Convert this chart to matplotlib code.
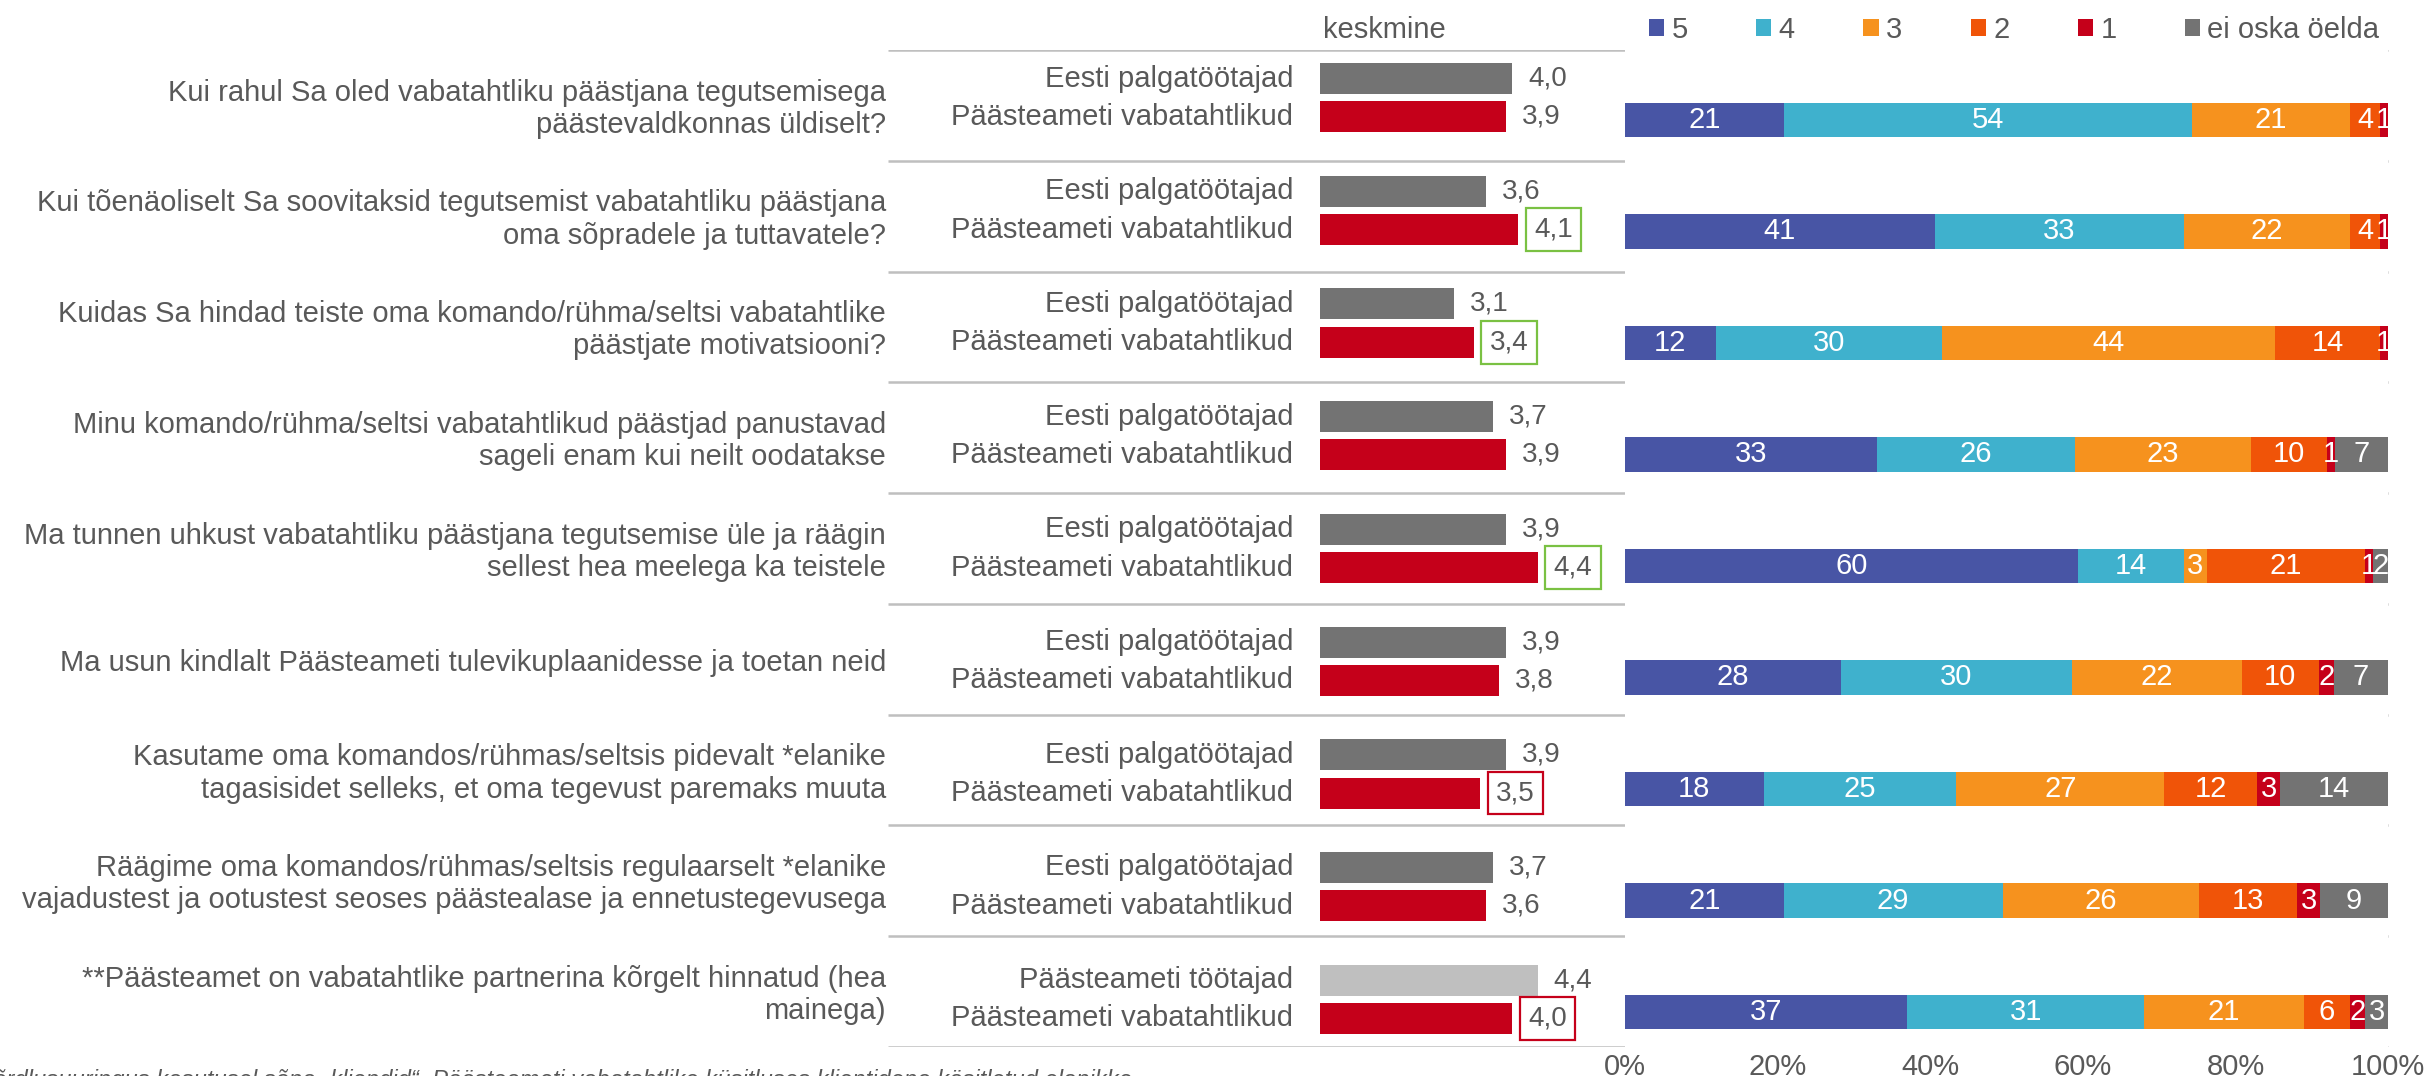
import matplotlib
matplotlib.use('Agg')
import matplotlib.pyplot as plt
import numpy as np
from matplotlib.patches import Patch

plt.rcParams['font.family'] = ['Liberation Sans', 'DejaVu Sans']

# --- andmed ---
questions = [
    "Kui rahul Sa oled vabatahtliku päästjana tegutsemisega\npäästevaldkonnas üldiselt?",
    "Kui tõenäoliselt Sa soovitaksid tegutsemist vabatahtliku päästjana\noma sõpradele ja tuttavatele?",
    "Kuidas Sa hindad teiste oma komando/rühma/seltsi vabatahtlike\npäästjate motivatsiooni?",
    "Minu komando/rühma/seltsi vabatahtlikud päästjad panustavad\nsageli enam kui neilt oodatakse",
    "Ma tunnen uhkust vabatahtliku päästjana tegutsemise üle ja räägin\nsellest hea meelega ka teistele",
    "Ma usun kindlalt Päästeameti tulevikuplaanidesse ja toetan neid",
    "Kasutame oma komandos/rühmas/seltsis pidevalt *elanike\ntagasisidet selleks, et oma tegevust paremaks muuta",
    "Räägime oma komandos/rühmas/seltsis regulaarselt *elanike\nvajadustest ja ootustest seoses päästealase ja ennetustegevusega",
    "**Päästeamet on vabatahtlike partnerina kõrgelt hinnatud (hea\nmainega)",
]
group_top = ["Eesti palgatöötajad"] * 8 + ["Päästeameti töötajad"]
group_bottom = "Päästeameti vabatahtlikud"

mean_ref = [4.0, 3.6, 3.1, 3.7, 3.9, 3.9, 3.9, 3.7, 4.4]
mean_vol = [3.9, 4.1, 3.4, 3.9, 4.4, 3.8, 3.5, 3.6, 4.0]
highlight = [None, 'green', 'green', None, 'green', None, 'red', None, 'red']

scale_labels = ["5", "4", "3", "2", "1", "ei oska öelda"]
s5 = [21, 41, 12, 33, 60, 28, 18, 21, 37]
s4 = [54, 33, 30, 26, 14, 30, 25, 29, 31]
s3 = [21, 22, 44, 23, 3, 22, 27, 26, 21]
s2 = [4, 4, 14, 10, 21, 10, 12, 13, 6]
s1 = [1, 1, 1, 1, 1, 2, 3, 3, 2]
s_eos = [0, 0, 0, 7, 2, 7, 14, 9, 3]

footnote = ("*Võrdlusuuringus kasutusel sõna „kliendid“. Päästeameti vabatahtlike "
            "küsitluses klientidena käsitletud elanikke")

# --- stiil ---
TXT = '#595959'
GRID = '#BFBFBF'
scale_colors = ['#4855A5', '#3FB1CD', '#F6921E', '#F05408', '#C5001A', '#737373']
ref_colors = ['#737373'] * 8 + ['#BFBFBF']
vol_color = '#C5001A'
box_colors = {'green': '#7AC143', 'red': '#C5001A'}
FS = 21

W, H = 2428, 1076
fig = plt.figure(figsize=(W / 100, H / 100), dpi=100)
y = np.arange(len(questions))
bottom, height = 1 - 1047 / H, 997 / H

# taust: eraldusjooned ja küsimused
ax_bg = fig.add_axes([0, bottom, 1, height], zorder=0)
ax_bg.set_xlim(0, 1)
ax_bg.set_ylim(9, 0)
ax_bg.axis('off')
ax_bg.hlines(np.arange(10), 888 / W, 2388 / W, color=GRID, lw=1.8)
for i, q in enumerate(questions):
    ax_bg.text(886 / W, i + 0.53, q, ha='right', va='center', fontsize=FS,
               color=TXT, linespacing=1.2)

# keskmised
ax_m = fig.add_axes([1320 / W, bottom, 256 / W, height], zorder=2)
ax_m.barh(y - 0.17, mean_ref, height=0.275, color=ref_colors)
ax_m.barh(y + 0.17, mean_vol, height=0.275, color=vol_color)
ax_m.set_xlim(1, 5)
ax_m.set_ylim(8.4233, -0.4237)
ax_m.axis('off')
tr = ax_m.get_yaxis_transform()
for i in range(len(questions)):
    ax_m.text(-0.105, i - 0.17, group_top[i], transform=tr, ha='right', va='center',
              fontsize=FS, color=TXT)
    ax_m.text(-0.105, i + 0.17, group_bottom, transform=tr, ha='right', va='center',
              fontsize=FS, color=TXT)
    ax_m.annotate(f"{mean_ref[i]:.1f}".replace('.', ','), xy=(mean_ref[i], i - 0.17),
                  xytext=(11.5, 0), textcoords='offset points', ha='left', va='center',
                  fontsize=20, color=TXT, annotation_clip=False)
    box = None
    if highlight[i]:
        box = dict(boxstyle='square,pad=0.3', fc='white', ec=box_colors[highlight[i]], lw=1.6)
    ax_m.annotate(f"{mean_vol[i]:.1f}".replace('.', ','), xy=(mean_vol[i], i + 0.17),
                  xytext=(11.5, 0), textcoords='offset points', ha='left', va='center',
                  fontsize=20, color=TXT, bbox=box, annotation_clip=False)

fig.text(1323 / W, 1 - 30 / H, "keskmine", ha='left', va='center', fontsize=FS, color=TXT)

# jaotus (100% tulbad)
ax_s = fig.add_axes([1625 / W, bottom, 763 / W, height], zorder=2)
data = np.array([s5, s4, s3, s2, s1, s_eos], dtype=float).T
pct = data / data.sum(axis=1, keepdims=True) * 100
left = np.zeros(len(questions))
for k in range(data.shape[1]):
    bars = ax_s.barh(y, pct[:, k], left=left, height=0.305, color=scale_colors[k])
    labels = [str(int(v)) if v > 0 else '' for v in data[:, k]]
    ax_s.bar_label(bars, labels=labels, label_type='center', color='white', fontsize=FS)
    left += pct[:, k]
ax_s.set_xlim(0, 100)
ax_s.set_ylim(8.3139, -0.6278)
ax_s.set_yticks([])
ax_s.set_xticks(np.arange(0, 101, 20))
ax_s.set_xticklabels([f"{t}%" for t in range(0, 101, 20)])
ax_s.tick_params(axis='x', length=0, labelsize=FS, colors=TXT, pad=4)
for sp in ax_s.spines.values():
    sp.set_visible(False)

handles = [Patch(facecolor=c) for c in scale_colors]
fig.legend(handles, scale_labels, ncol=6, loc='center left',
           bbox_to_anchor=(1649 / W, 1 - 30 / H), frameon=False, fontsize=FS,
           handlelength=0.52, handleheight=0.52, handletextpad=0.25,
           columnspacing=2.35, borderpad=0, borderaxespad=0, labelcolor=TXT)

fig.text(-0.013, -0.004, footnote, style='italic', fontsize=17.2, color=TXT,
         ha='left', va='center')

fig.savefig('out.png', dpi=100)
plt.close()
